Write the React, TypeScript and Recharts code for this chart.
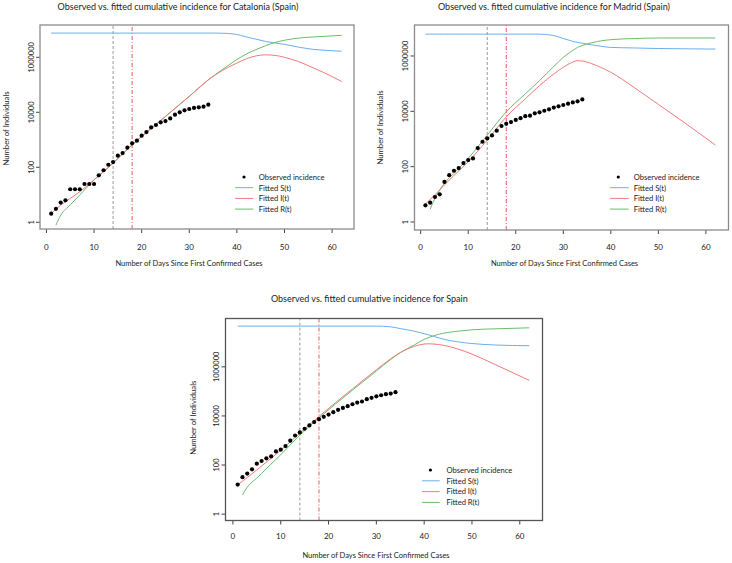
import React from 'react';
import { ComposedChart, Line, Scatter, XAxis, YAxis, ReferenceLine, Legend } from 'recharts';

const FONT = 'Lato, "Open Sans", sans-serif';

// ---------- data ----------
const obsDays = [1, 2, 3, 4, 5, 6, 7, 8, 9, 10, 11, 12, 13, 14, 15, 16, 17, 18, 19, 20, 21, 22, 23, 24, 25, 26, 27, 28, 29, 30, 31, 32, 33, 34];

const catObserved = [2.05, 3.1, 5.2, 6.3, 15.9, 15.9, 15.9, 24.7, 24.7, 24.7, 51, 78, 124, 155, 265, 330, 515, 745, 930, 1410, 1910, 2830, 3460, 4330, 4800, 6000, 8200, 10000, 11800, 13200, 14400, 15200, 16000, 19000];
const madObserved = [4, 5, 8, 10, 28, 49, 71, 89, 135, 173, 199, 468, 793, 1050, 1350, 1990, 2940, 3540, 4070, 4900, 5640, 6700, 6980, 8480, 9170, 10500, 11800, 13600, 15100, 16900, 18900, 21000, 23000, 27000];
const espObserved = [16, 32, 45, 67, 114, 146, 187, 225, 360, 423, 594, 980, 1600, 2130, 3010, 4100, 5600, 7400, 9200, 11400, 14200, 17700, 21300, 25000, 30000, 35000, 38700, 48000, 54500, 63000, 69700, 77000, 81600, 93000];

const catFitDays = [1, 2, 3, 5, 7, 10, 14, 18, 20, 25, 30, 34, 36, 38, 40, 42, 44, 46, 48, 50, 53, 56, 60, 62];
const catS = [7590000, 7590000, 7590000, 7590000, 7590000, 7590000, 7590000, 7590000, 7590000, 7590000, 7590000, 7590000, 7590000, 7410000, 6760000, 5500000, 4570000, 3800000, 3310000, 2950000, 2340000, 1950000, 1740000, 1660000];
const catI = [2.1, 3.0, 4.2, 7.4, 12.9, 35, 141, 661, 1318, 7079, 38000, 151000, 263000, 417000, 617000, 891000, 1122000, 1230000, 1175000, 1000000, 692000, 417000, 200000, 132000];
const catR = [null, 0.79, 1.8, 4.3, 9.8, 35, 141, 661, 1318, 7079, 38000, 151000, 275000, 479000, 832000, 1318000, 1905000, 2630000, 3467000, 4169000, 5012000, 5495000, 6026000, 6310000];

const madFitDays = [1, 2, 3, 5, 7, 10, 14, 18, 22, 25, 28, 30, 32, 33, 34, 36, 38, 40, 45, 50, 55, 62];
const madS = [6166000, 6166000, 6166000, 6166000, 6166000, 6166000, 6166000, 6166000, 6166000, 6166000, 5495000, 4266000, 3388000, 3090000, 2884000, 2512000, 2239000, 2042000, 1950000, 1862000, 1820000, 1778000];
const madI = [4.4, 6.6, 9.5, 21.9, 47.9, 151, 912, 6310, 28200, 85100, 224000, 389000, 603000, 676000, 661000, 525000, 380000, 257000, 70800, 17800, 4470, 603];
const madR = [null, 2.9, 7.1, 25.1, 57.5, 200, 1380, 9550, 42700, 129000, 417000, 891000, 1585000, 2042000, 2399000, 3020000, 3548000, 3890000, 4266000, 4467000, 4467000, 4467000];

const espFitDays = [1, 2, 3, 4, 5, 7, 10, 14, 18, 25, 30, 33, 35, 38, 40, 41, 42, 44, 47, 50, 55, 62];
const espS = [45700000, 45700000, 45700000, 45700000, 45700000, 45700000, 45700000, 45700000, 45700000, 45700000, 45700000, 42660000, 36310000, 28180000, 22390000, 19950000, 17380000, 13490000, 10470000, 8913000, 7762000, 7244000];
const espI = [15.5, 21.9, 30.9, 44.7, 63.1, 132, 398, 1995, 9550, 126000, 759000, 2138000, 3802000, 6918000, 8511000, 8710000, 8511000, 7586000, 5370000, 3311000, 1202000, 282000];
const espR = [null, 6.0, 12.6, 20, 29.5, 70.8, 263, 1660, 8318, 112000, 676000, 1995000, 3802000, 7943000, 13180000, 15850000, 18620000, 23440000, 28180000, 32360000, 35480000, 38900000];

const yTicks = [1, 100, 10000, 1000000];
const xTicks = [0, 10, 20, 30, 40, 50, 60];
const lockdownDays = [14, 18];
const legendLabels = ['Observed incidence', 'Fitted S(t)', 'Fitted I(t)', 'Fitted R(t)'];

const COL_S = '#6aaeef';
const COL_I = '#f07a7a';
const COL_R = '#6cbc6c';
const TEXT = '#222';
const AXIS_W = 30;
const AXIS_H = 30;

const obsRows = (vals: number[]) => obsDays.map((d, i) => ({ day: d, obs: vals[i] }));
const fitRows = (days: number[], s: (number | null)[], iv: (number | null)[], r: (number | null)[]) =>
  days.map((d, i) => ({ day: d, S: s[i], I: iv[i], R: r[i] }));

const YTick = (props: any) => {
  const { x, y, payload } = props;
  return (
    <text x={x} y={y} transform={`rotate(-90 ${x} ${y})`} textAnchor="middle" fontSize={7.5} fill={TEXT} fontFamily={FONT}>
      {payload.value}
    </text>
  );
};

const makeLegend = (rowGap: number, lineLen: number, dotX: number, textX: number) => () => (
  <svg width={110} height={4 * rowGap + 6} style={{ display: 'block', overflow: 'visible' }}>
    {legendLabels.map((lab, i) => {
      const cy = 6 + i * rowGap;
      const col = i === 1 ? COL_S : i === 2 ? COL_I : COL_R;
      return (
        <g key={lab}>
          {i === 0 ? (
            <circle cx={dotX} cy={cy} r={1.6} fill="#000" />
          ) : (
            <line x1={0} x2={lineLen} y1={cy} y2={cy} stroke={col} strokeWidth={1} />
          )}
          <text x={textX} y={cy + 2.8} fontSize={7.6} fill={TEXT} fontFamily={FONT}>{lab}</text>
        </g>
      );
    })}
  </svg>
);

type Margin = { top: number; right: number; bottom: number; left: number };
type PanelProps = {
  left: number; top: number; width: number; height: number;
  margin: Margin;
  yDomain: [number, number]; xDomain: [number, number];
  obs: any[]; fit: any[];
  xTickMargin: number; yTickMargin: number;
  legendPos: { left: number; top: number }; legend: () => React.ReactElement;
};

const Panel = (p: PanelProps) => (
  <div style={{ position: 'absolute', left: p.left, top: p.top }}>
    <ComposedChart width={p.width} height={p.height} margin={p.margin}>
      <XAxis type="number" dataKey="day" domain={p.xDomain} ticks={xTicks} allowDataOverflow
        axisLine={false} tickLine={{ stroke: '#444' }} tickSize={4} tickMargin={p.xTickMargin} height={AXIS_H}
        tick={{ fontSize: 8, fill: TEXT, fontFamily: FONT }} />
      <YAxis type="number" scale="log" domain={p.yDomain} ticks={yTicks} allowDataOverflow
        axisLine={false} tickLine={{ stroke: '#444' }} tickSize={4} tickMargin={p.yTickMargin} width={AXIS_W}
        tick={<YTick />} />
      <ReferenceLine x={lockdownDays[0]} stroke="#9a9a9a" strokeDasharray="3 2" strokeWidth={1} />
      <ReferenceLine x={lockdownDays[1]} stroke="#f05a5a" strokeDasharray="4 2 1 2" strokeWidth={1} />
      <Line data={p.fit} dataKey="S" type="monotone" stroke={COL_S} strokeWidth={1} dot={false} isAnimationActive={false} />
      <Line data={p.fit} dataKey="R" type="monotone" stroke={COL_R} strokeWidth={1} dot={false} isAnimationActive={false} />
      <Line data={p.fit} dataKey="I" type="monotone" stroke={COL_I} strokeWidth={1} dot={false} isAnimationActive={false} />
      <Scatter data={p.obs} dataKey="obs" isAnimationActive={false}
        shape={(s: any) => <circle cx={s.cx} cy={s.cy} r={2.1} fill="#000" />} />
      <Legend layout="vertical" align="center" verticalAlign="middle" content={p.legend}
        wrapperStyle={{ position: 'absolute', left: p.legendPos.left, top: p.legendPos.top, width: 110, height: 50 }} />
    </ComposedChart>
  </div>
);

// plot frame derived from each panel's layout (left/top/size/margins)
const Frame = ({ l, t, w, h, m, color }: { l: number; t: number; w: number; h: number; m: Margin; color: string }) => (
  <rect x={l + m.left + AXIS_W} y={t + m.top} width={w - m.left - m.right - AXIS_W} height={h - m.top - m.bottom - AXIS_H}
    fill="none" stroke={color} strokeWidth={1.3} />
);

const lg = (a: number, b: number): [number, number] => [Math.pow(10, a), Math.pow(10, b)];

const catLayout = { l: 0, t: 0, w: 366, h: 280, m: { top: 25, right: 12, bottom: 21, left: 10 } };
const madLayout = { l: 366, t: 0, w: 366, h: 280, m: { top: 25, right: 3.5, bottom: 20, left: 18.5 } };
const espLayout = { l: 180, t: 280, w: 380, h: 283, m: { top: 38.5, right: 17.5, bottom: 12.5, left: 15.5 } };

export default function App() {
  return (
    <div style={{ position: 'absolute', left: 0, top: 0, width: 732, height: 563, background: '#fff', overflow: 'hidden' }}>
      <Panel left={catLayout.l} top={catLayout.t} width={catLayout.w} height={catLayout.h} margin={catLayout.m}
        xDomain={[-1.35, 64.6]} yDomain={lg(-0.244, 7.175)}
        obs={obsRows(catObserved)} fit={fitRows(catFitDays, catS, catI, catR)}
        xTickMargin={11} yTickMargin={1.5}
        legendPos={{ left: 235, top: 171 }} legend={makeLegend(10.7, 18.3, 9, 23.7)} />
      <Panel left={madLayout.l} top={madLayout.t} width={madLayout.w} height={madLayout.h} margin={madLayout.m}
        xDomain={[-1.3, 64.75]} yDomain={lg(-0.29, 7.12)}
        obs={obsRows(madObserved)} fit={fitRows(madFitDays, madS, madI, madR)}
        xTickMargin={10.3} yTickMargin={2.6}
        legendPos={{ left: 244, top: 171 }} legend={makeLegend(10.7, 18.7, 8.3, 23.7)} />
      <Panel left={espLayout.l} top={espLayout.t} width={espLayout.w} height={espLayout.h} margin={espLayout.m}
        xDomain={[-1.55, 64.75]} yDomain={lg(-0.26, 7.97)}
        obs={obsRows(espObserved)} fit={fitRows(espFitDays, espS, espI, espR)}
        xTickMargin={8.6} yTickMargin={2.4}
        legendPos={{ left: 242.3, top: 184 }} legend={makeLegend(10.8, 17.7, 8.4, 24.4)} />
      <svg width={732} height={563} style={{ position: 'absolute', left: 0, top: 0, pointerEvents: 'none' }} fontFamily={FONT}>
        <Frame {...catLayout} color="#8c8c8c" />
        <Frame {...madLayout} color="#8c8c8c" />
        <Frame {...espLayout} color="#555" />
        <g fill={TEXT}>
          <text x={178} y={9.5} textAnchor="middle" fontSize={9}>Observed vs. fitted cumulative incidence for Catalonia (Spain)</text>
          <text x={554} y={9.5} textAnchor="middle" fontSize={9}>Observed vs. fitted cumulative incidence for Madrid (Spain)</text>
          <text x={369.3} y={301.5} textAnchor="middle" fontSize={9}>Observed vs. fitted cumulative incidence for Spain</text>
          <text x={189} y={266} textAnchor="middle" fontSize={7.5}>Number of Days Since First Confirmed Cases</text>
          <text x={564.5} y={266} textAnchor="middle" fontSize={7.5}>Number of Days Since First Confirmed Cases</text>
          <text x={376} y={558} textAnchor="middle" fontSize={7.5}>Number of Days Since First Confirmed Cases</text>
          <text x={9.3} y={128.5} transform="rotate(-90 9.3 128.5)" textAnchor="middle" fontSize={7.7}>Number of Individuals</text>
          <text x={382.7} y={127.5} transform="rotate(-90 382.7 127.5)" textAnchor="middle" fontSize={7.7}>Number of Individuals</text>
          <text x={195.7} y={417.7} transform="rotate(-90 195.7 417.7)" textAnchor="middle" fontSize={7.7}>Number of Individuals</text>
        </g>
      </svg>
    </div>
  );
}
